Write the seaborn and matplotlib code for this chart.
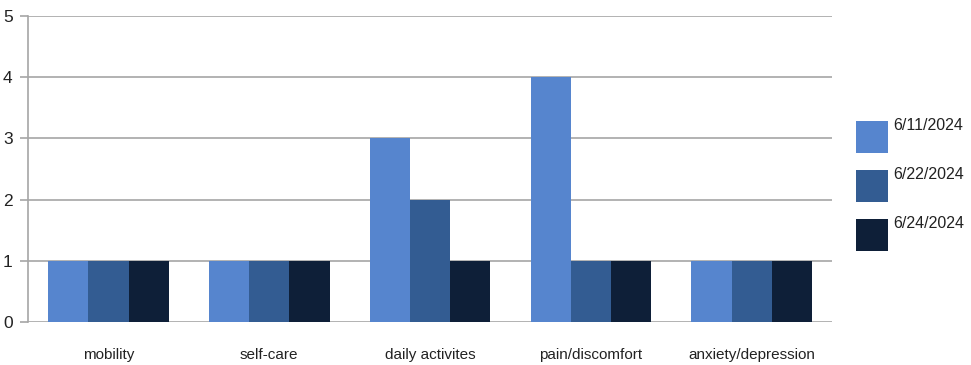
import matplotlib
matplotlib.use("Agg")
import matplotlib.pyplot as plt
from matplotlib.patches import Rectangle
import pandas as pd
import seaborn as sns

categories = ["mobility", "self-care", "daily activites", "pain/discomfort", "anxiety/depression"]
dates = ["6/11/2024", "6/22/2024", "6/24/2024"]
scores_0611 = [1, 1, 3, 4, 1]
scores_0622 = [1, 1, 2, 1, 1]
scores_0624 = [1, 1, 1, 1, 1]
colors = ["#5685CE", "#335C92", "#0E1F38"]

df = pd.DataFrame({
    "category": categories * 3,
    "date": [dates[0]] * 5 + [dates[1]] * 5 + [dates[2]] * 5,
    "score": scores_0611 + scores_0622 + scores_0624,
})

sns.set_theme(style="white")
plt.rcParams["font.family"] = ["Liberation Sans", "DejaVu Sans"]

fig = plt.figure(figsize=(9.71, 3.65), dpi=100)
ax = fig.add_axes([28 / 971, 43 / 365, 804 / 971, 306 / 365])

sns.barplot(data=df, x="category", y="score", hue="date", order=categories,
            hue_order=dates, palette=colors, width=0.75, saturation=1,
            linewidth=0, legend=False, ax=ax, zorder=3)

ax.set_xlim(-0.5, 4.5)
ax.set_ylim(0, 5)
ax.set_yticks(range(6))
ax.yaxis.grid(True, color="#A6A6A6", linewidth=1.2, zorder=0)
ax.set_axisbelow(True)
for side in ["top", "right", "bottom"]:
    ax.spines[side].set_visible(False)
ax.spines["left"].set_color("#A6A6A6")
ax.spines["left"].set_linewidth(1.2)
ax.tick_params(axis="y", left=True, length=6, width=1.2, color="#A6A6A6",
               labelsize=12.5, labelcolor="#222222", pad=5)
ax.tick_params(axis="x", bottom=False, labelsize=11, labelcolor="#222222", pad=13)
ax.set_xlabel("")
ax.set_ylabel("")

# Legend: color squares with labels to their upper right
for i, (d, c) in enumerate(zip(dates, colors)):
    y_top = 1 - (121 + 49 * i) / 365
    fig.add_artist(Rectangle((856 / 971, y_top - 32 / 365), 32 / 971, 32 / 365,
                             transform=fig.transFigure, facecolor=c, edgecolor="none"))
    fig.text(893 / 971, y_top + 3 / 365, d, ha="left", va="top", fontsize=11.5, color="#222222")

fig.savefig("out.png", dpi=100)
